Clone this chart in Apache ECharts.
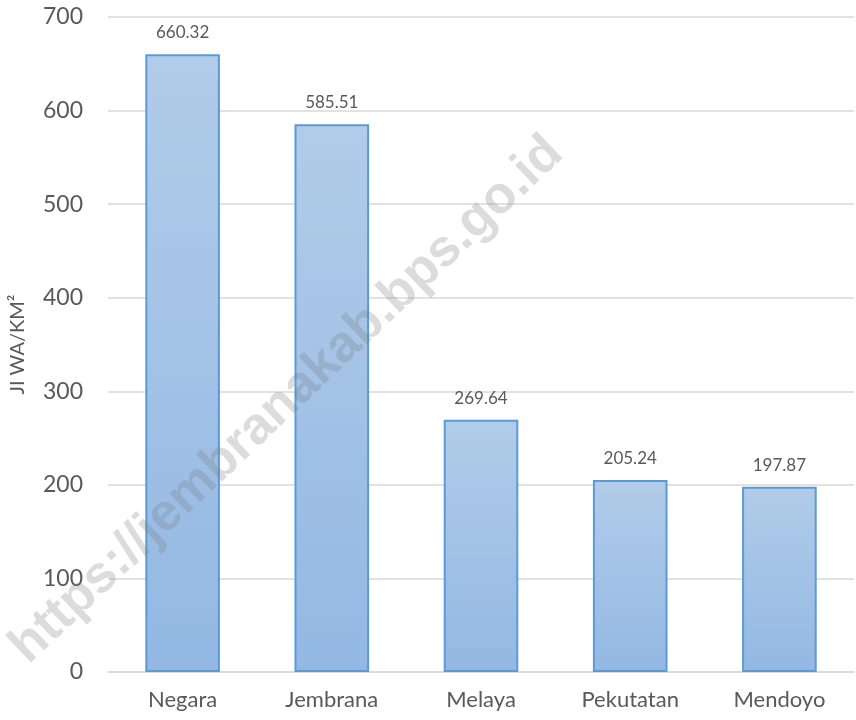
<!DOCTYPE html>
<html>
<head>
<meta charset="utf-8">
<script src="https://cdn.jsdelivr.net/npm/echarts@6/dist/echarts.min.js"></script>
<style>
  html, body { margin: 0; padding: 0; background: #fff; }
  #chart { width: 856px; height: 720px; }
</style>
</head>
<body>
<div id="chart"></div>
<script>
// kecamatan
var categories = ["Negara", "Jembrana", "Melaya", "Pekutatan", "Mendoyo"];
// kepadatan penduduk (jiwa/km2)
var density = [660.32, 585.51, 269.64, 205.24, 197.87];
var yTicks = [0, 100, 200, 300, 400, 500, 600, 700];

var chart = echarts.init(document.getElementById("chart"));
var txtColor = "#595959";
var option = {
  animation: false,
  grid: { left: 106, right: 2, top: 17, bottom: 48 },
  graphic: [
    {
      // watermark
      type: "text",
      x: 287,
      y: 400,
      rotation: 43.5 * Math.PI / 180,
      z: 100,
      silent: true,
      style: {
        text: "https://jembranakab.bps.go.id",
        font: "bold 52px 'Liberation Sans', Arial, sans-serif",
        fill: "rgba(120,120,120,0.26)",
        align: "center",
        verticalAlign: "middle"
      }
    }
  ],
  xAxis: {
    type: "category",
    data: categories,
    axisLine: { lineStyle: { color: "#d9d9d9", width: 1.5 } },
    axisTick: { show: false },
    axisLabel: {
      color: txtColor,
      fontFamily: "Lato",
      fontSize: 22,
      margin: 17
    }
  },
  yAxis: {
    type: "value",
    min: yTicks[0],
    max: yTicks[yTicks.length - 1],
    interval: 100,
    name: "JI WA/KM²",
    nameLocation: "middle",
    nameGap: 80,
    nameTextStyle: { color: txtColor, fontFamily: "Lato", fontSize: 20 },
    axisLine: { show: false },
    axisTick: { show: false },
    axisLabel: { color: txtColor, fontFamily: "Lato", fontSize: 23, margin: 25 },
    splitLine: { lineStyle: { color: "#d9d9d9", width: 1.5 } }
  },
  series: [
    {
      type: "bar",
      data: density,
      barWidth: "50%",
      itemStyle: {
        color: new echarts.graphic.LinearGradient(0, 0, 0, 1, [
          { offset: 0, color: "#b1cce9" },
          { offset: 1, color: "#93b8e3" }
        ]),
        borderColor: "#5b9bd5",
        borderWidth: 2
      },
      label: {
        show: true,
        position: "top",
        distance: 13,
        color: txtColor,
        fontFamily: "Lato",
        fontSize: 17,
        formatter: function (p) { return p.value.toFixed(2); }
      }
    }
  ]
};
chart.setOption(option);
</script>
</body>
</html>
